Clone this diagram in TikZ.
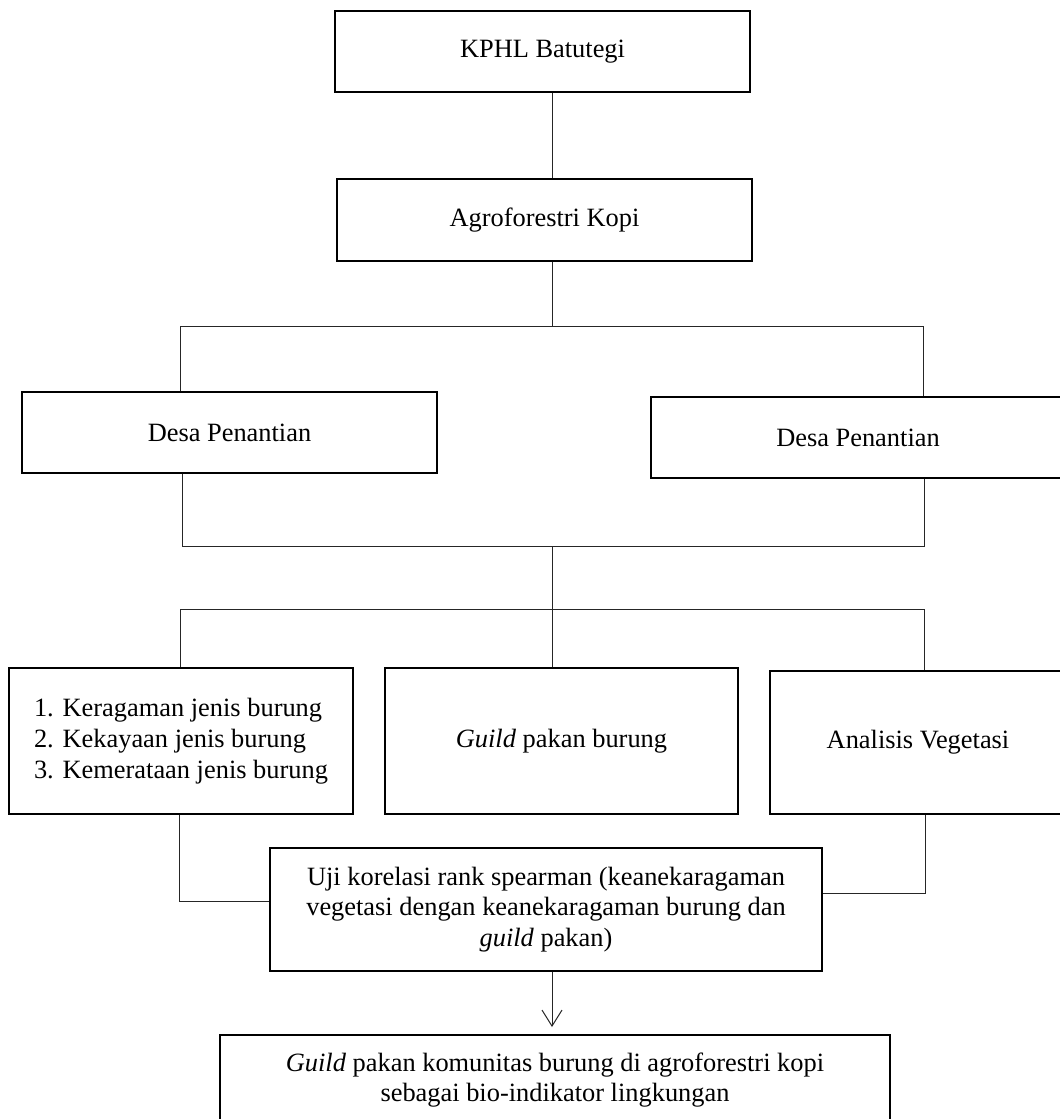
\documentclass[tikz,border=0pt]{standalone}
\usepackage{fontspec}
\setmainfont{Liberation Serif}
\usetikzlibrary{arrows.meta}
\begin{document}
\begin{tikzpicture}[x=1pt,y=-1pt,
  box/.style={draw=black, line width=1.1pt, rectangle, inner sep=0pt, align=center,
    font=\fontsize{26.4}{30.8}\selectfont},
  link/.style={draw=black!85, line width=1pt},
  arr/.style={link, -{Straight Barb[length=16pt,width=20pt,line width=1pt]}}]
\useasboundingbox (0,0) rectangle (1060,1119);
\fill[white] (0,0) rectangle (1060,1119);
% nodes
\node[box, minimum width=415, minimum height=81] (kphl) at (542.5,51.5) {KPHL Batutegi};
\node[box, minimum width=415, minimum height=82] (agro) at (544.5,220) {Agroforestri Kopi};
\node[box, minimum width=415, minimum height=81] (desaL) at (229.5,432.5) {Desa Penantian};
\node[box, minimum width=414, minimum height=81] (desaR) at (858,437.5) {Desa Penantian};
\node[box, minimum width=344, minimum height=146, align=left] (list) at (181,741)
  {1. Keragaman jenis burung\\2. Kekayaan jenis burung\\3. Kemerataan jenis burung};
\node[box, minimum width=353, minimum height=146] (guild) at (561.5,741) {\textit{Guild} pakan burung};
\node[box, minimum width=296, minimum height=143] (anal) at (918,742.5) {Analisis Vegetasi};
\node[box, minimum width=552, minimum height=123] (uji) at (546,909.5)
  {Uji korelasi rank spearman (keanekaragaman\\vegetasi dengan keanekaragaman burung dan\\\textit{guild} pakan)};
\node[box, minimum width=670, minimum height=90] (final) at (555,1080)
  {\textit{Guild} pakan komunitas burung di agroforestri kopi\\sebagai bio-indikator lingkungan};
% junction coordinates
\coordinate (j1) at (552,326);
\coordinate (bL) at (180,326);
\coordinate (bR) at (923,326);
\coordinate (mL) at (182,546);
\coordinate (mR) at (924,546);
\coordinate (j2) at (552,546);
\coordinate (j3) at (552,609);
\coordinate (lL) at (180,609);
\coordinate (lR) at (924,609);
\coordinate (uL) at (179,901);
\coordinate (uR) at (925,893);
\coordinate (tip) at (552,1027);
% connectors
\draw[link] (kphl.south -| j1) -- (agro.north -| j1);
\draw[link] (agro.south -| j1) -- (j1);
\draw[link] (desaL.north -| bL) -- (bL) -- (bR) -- (desaR.north -| bR);
\draw[link] (desaL.south -| mL) -- (mL) -- (mR) -- (desaR.south -| mR);
\draw[link] (j2) -- (j3);
\draw[link] (list.north -| lL) -- (lL) -- (lR) -- (anal.north -| lR);
\draw[link] (j3) -- (guild.north -| j3);
\draw[link] (list.south -| uL) -- (uL) -- (uji.west |- uL);
\draw[link] (anal.south -| uR) -- (uR) -- (uji.east |- uR);
\draw[arr] (uji.south -| tip) -- (tip);
\end{tikzpicture}
\end{document}
